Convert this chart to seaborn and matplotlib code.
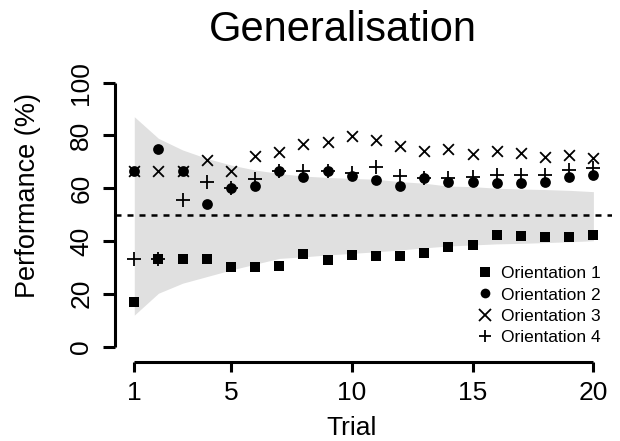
import numpy as np
import pandas as pd
import matplotlib
matplotlib.use("Agg")
import matplotlib.pyplot as plt
import seaborn as sns
from matplotlib.lines import Line2D

trials = list(range(1, 21))
orientation1 = [16.7, 33.3, 33.3, 33.3, 30.0, 30.0, 30.6, 34.9, 32.9, 34.7,
                34.2, 34.2, 35.4, 37.8, 38.5, 42.3, 41.9, 41.6, 41.6, 42.3]
orientation2 = [66.7, 75.0, 66.7, 54.2, 60.0, 60.8, 66.7, 64.4, 66.7, 64.6,
                63.1, 60.8, 63.7, 62.5, 62.5, 62.1, 62.1, 62.5, 64.4, 65.0]
orientation3 = [66.7, 66.7, 66.7, 70.8, 66.7, 72.2, 73.6, 76.8, 77.5, 79.8,
                78.3, 76.0, 74.1, 74.8, 72.9, 74.1, 73.2, 71.9, 72.6, 71.3]
orientation4 = [33.3, 33.3, 55.6, 62.5, 60.0, 63.6, 66.7, 66.6, 66.7, 65.9,
                68.2, 64.6, 63.7, 64.0, 64.4, 65.0, 65.0, 65.0, 66.9, 67.5]
band_upper = [87.1, 78.9, 74.5, 71.3, 68.8, 66.9, 65.6, 64.6, 64.1, 63.7,
              63.4, 62.5, 61.9, 60.8, 60.6, 60.0, 59.7, 59.5, 59.2, 58.7]
band_lower = [11.9, 20.2, 24.0, 26.5, 29.0, 31.2, 33.4, 34.0, 34.7, 35.3,
              35.9, 36.6, 37.4, 38.1, 38.5, 38.9, 39.1, 39.4, 39.7, 40.1]
chance = 50
series_names = ["Orientation 1", "Orientation 2", "Orientation 3", "Orientation 4"]
x_ticks = [1, 5, 10, 15, 20]
y_ticks = [0, 20, 40, 60, 80, 100]

sns.set_style("white")
plt.rcParams['font.family'] = ['Liberation Sans', 'DejaVu Sans']
plt.rcParams['text.color'] = 'black'
plt.rcParams['xtick.color'] = 'black'
plt.rcParams['ytick.color'] = 'black'
plt.rcParams['axes.labelcolor'] = 'black'

W, H = 620, 441
fig = plt.figure(figsize=(W / 100, H / 100), dpi=100)
left, right, bottom, top = 115, 612, 361.7, 72
ax = fig.add_axes([left / W, 1 - bottom / H, (right - left) / W, (bottom - top) / H])

ax.fill_between(trials, band_lower, band_upper, color='#e0e0e0', linewidth=0, zorder=1)
ax.axhline(chance, color='black', linewidth=1.8, linestyle=(0, (2.4, 2.4)), zorder=2)

values = [orientation1, orientation2, orientation3, orientation4]
markers = ['s', 'o', 'x', '+']
sizes = [45, 60, 60, 95]
for name, vals, m, s in zip(series_names, values, markers, sizes):
    df = pd.DataFrame({"Trial": trials, "Performance": vals})
    if m in ('s', 'o'):
        sns.scatterplot(data=df, x="Trial", y="Performance", marker=m, s=s,
                        color='black', linewidth=0, ax=ax, zorder=3)
    else:
        sns.scatterplot(data=df, x="Trial", y="Performance", marker=m, s=s,
                        color='black', linewidth=1.3, ax=ax, zorder=3)

ax.set_xlim(0.201, 20.77)
ax.set_ylim(-5.76, 104.06)
ax.set_xticks(x_ticks)
ax.set_yticks(y_ticks)
ax.set_xlabel("")
ax.set_ylabel("")

for sp in ['top', 'right']:
    ax.spines[sp].set_visible(False)
for sp in ['left', 'bottom']:
    ax.spines[sp].set_visible(True)
    ax.spines[sp].set_linewidth(2.2)
    ax.spines[sp].set_color('black')
    ax.spines[sp].set_capstyle('butt')
ax.spines['left'].set_bounds(0, 100)
ax.spines['bottom'].set_bounds(1, 20)

ax.tick_params(axis='y', direction='out', length=8.6, width=2.2, color='black',
               labelsize=19, pad=7, labelrotation=90, left=True, labelcolor='black')
ax.tick_params(axis='x', direction='out', length=7.2, width=2.2, color='black',
               labelsize=19, pad=7, bottom=True, labelcolor='black')
for lab in ax.get_yticklabels():
    lab.set_va('center')

fig.text(343 / W, 1 - 30 / H, "Generalisation", ha='center', va='center',
         fontsize=30, color='black')
fig.text(28 / W, 1 - 196 / H, "Performance (%)", ha='center', va='center',
         rotation=90, fontsize=19.5, color='black')
fig.text(351.7 / W, 1 - 428 / H, "Trial", ha='center', va='center',
         fontsize=19, color='black')

handles = []
for name, m in zip(series_names, markers):
    if m in ('s', 'o'):
        h = Line2D([], [], marker=m, linestyle='none', color='black',
                   markersize=7, markeredgewidth=0)
    else:
        h = Line2D([], [], marker=m, linestyle='none', color='black',
                   markersize=9, markeredgewidth=1.3)
    handles.append(h)
leg = ax.legend(handles, series_names, loc='upper left',
                bbox_to_anchor=(478 / W, 1 - 266 / H), bbox_transform=fig.transFigure,
                frameon=False, fontsize=12.5, handlelength=0.8, handletextpad=0.55,
                labelspacing=0.36, borderpad=0, borderaxespad=0)
for t in leg.get_texts():
    t.set_color('black')

fig.savefig("out.png", dpi=100)
